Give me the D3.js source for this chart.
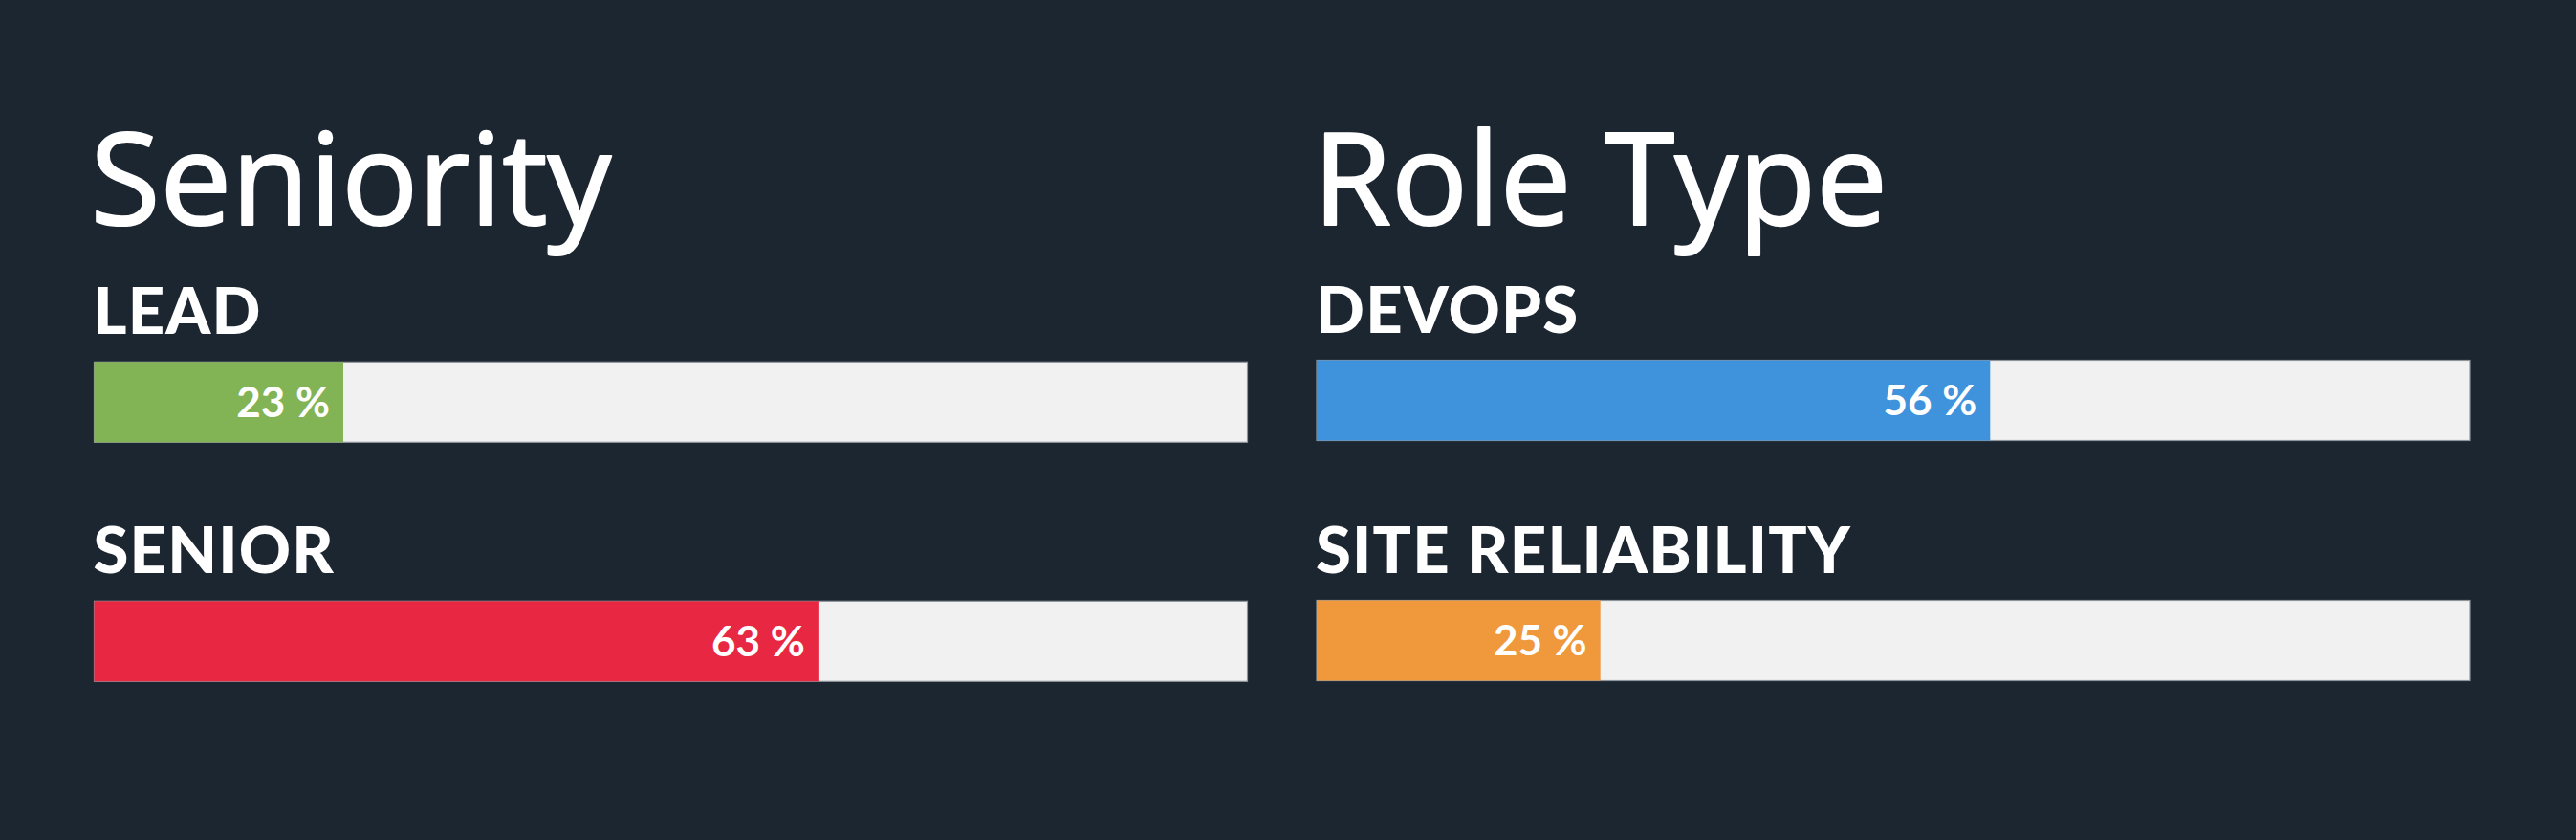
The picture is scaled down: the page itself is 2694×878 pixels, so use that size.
<!DOCTYPE html>
<html>
<head>
<meta charset="utf-8">
<script src="https://cdn.jsdelivr.net/npm/d3@7"></script>
<style>
  html, body { margin: 0; padding: 0; background: #1c2631; }
  svg { display: block; }
</style>
</head>
<body>
<svg id="chart" width="2694" height="878"></svg>
<script>
// ---- data ----
const panelTitles = ["Seniority", "Role Type"];

const seniorityCategories = ["LEAD", "SENIOR"];
const seniorityLabels = [23, 63];          // percentages printed on bars
const seniorityFill = [21.6, 62.8];        // bar lengths as drawn in the picture (%)
const seniorityColors = ["#82b355", "#e82742"];

const roleCategories = ["DEVOPS", "SITE RELIABILITY"];
const roleLabels = [56, 25];
const roleFill = [58.4, 24.6];
const roleColors = ["#3e93dc", "#ef993c"];

// ---- layout ----
const W = 2694, H = 878;
const svg = d3.select("#chart");
svg.append("rect").attr("width", W).attr("height", H).attr("fill", "#1c2631");

const panels = [
  { title: panelTitles[0], cats: seniorityCategories, labels: seniorityLabels, fill: seniorityFill,
    colors: seniorityColors, x0: 98.5, rowRange: [378.3, 628.3] },
  { title: panelTitles[1], cats: roleCategories, labels: roleLabels, fill: roleFill,
    colors: roleColors, x0: 1377, rowRange: [376.5, 627.5] }
];

const barW = 1206, barH = 84;

panels.forEach(p => {
  const g = svg.append("g");
  const x = d3.scaleLinear().domain([0, 100]).range([p.x0, p.x0 + barW]);
  const y = d3.scalePoint().domain(p.cats).range(p.rowRange);

  g.append("text")
    .attr("x", p.x0 - 4)
    .attr("y", 235)
    .attr("fill", "#ffffff")
    .attr("stroke", "#ffffff")
    .attr("stroke-width", 2.2)
    .attr("stroke-linejoin", "round")
    .style("font-family", "'Open Sans', sans-serif")
    .style("font-size", "133px")
    .style("font-weight", 400)
    .text(p.title);

  const rows = p.cats.map((c, i) => ({ cat: c, label: p.labels[i], fill: p.fill[i], color: p.colors[i] }));

  const row = g.selectAll("g.row").data(rows).join("g").attr("class", "row");

  row.append("text")
    .attr("x", p.x0 - 1)
    .attr("y", d => y(d.cat) - 29)
    .attr("fill", "#ffffff")
    .style("font-family", "Lato, sans-serif")
    .style("font-size", "67px")
    .style("font-weight", 900)
    .style("letter-spacing", "1.2px")
    .text(d => d.cat);

  row.append("rect")
    .attr("x", x(0))
    .attr("y", d => y(d.cat))
    .attr("width", x(100) - x(0))
    .attr("height", barH)
    .attr("fill", "#f1f1f1")
    .attr("stroke", "#8f959c")
    .attr("stroke-width", 1.2);

  row.append("rect")
    .attr("x", x(0))
    .attr("y", d => y(d.cat))
    .attr("width", d => x(d.fill) - x(0))
    .attr("height", barH)
    .attr("fill", d => d.color);

  row.append("text")
    .attr("x", d => x(d.fill) - 14)
    .attr("y", d => y(d.cat) + barH / 2)
    .attr("dy", "0.36em")
    .attr("text-anchor", "end")
    .attr("fill", "#ffffff")
    .style("font-family", "Lato, sans-serif")
    .style("font-size", "44px")
    .style("font-weight", 700)
    .text(d => d.label + " %");
});
</script>
</body>
</html>
